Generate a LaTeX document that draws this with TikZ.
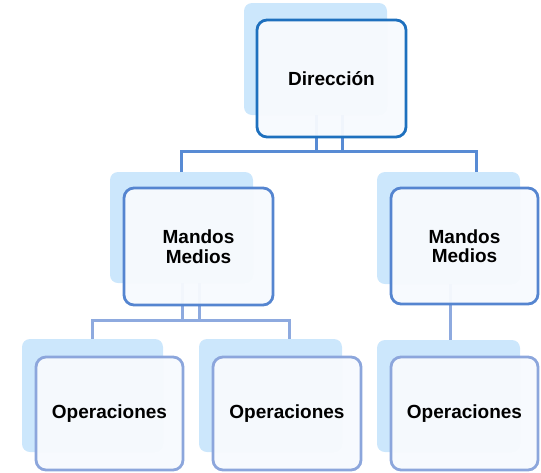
\documentclass[tikz,border=0pt]{standalone}
\usepackage{fontspec}
\setmainfont{Liberation Sans}
\definecolor{backfill}{RGB}{204,231,252}
\definecolor{frontfill}{RGB}{247,250,254}
\definecolor{dirline}{RGB}{30,112,190}
\definecolor{mmline}{RGB}{85,133,208}
\definecolor{opline}{RGB}{140,166,220}
\definecolor{connA}{RGB}{88,139,212}
\definecolor{connB}{RGB}{142,170,223}
\begin{document}
\begin{tikzpicture}[x=1pt,y=-1pt,
  backbox/.style={draw=none,fill=backfill,rounded corners=8pt,inner sep=0pt,outer sep=0pt,minimum width=143pt,minimum height=112pt},
  frontbox/.style={fill=frontfill,fill opacity=0.96,text opacity=1,rounded corners=10pt,line width=2.8pt,inner sep=0pt,outer sep=0pt,minimum width=148pt,minimum height=116pt,align=center,font=\fontsize{19}{19.5}\selectfont\bfseries},
  connA/.style={draw=connA,line width=3pt},
  connB/.style={draw=connB,line width=3pt}]
\useasboundingbox (0,0) rectangle (541,472);
% back boxes
\node[backbox] (dirB) at (315.5,59) {};
\node[backbox,minimum height=111pt] (mmlB) at (181.5,227.5) {};
\node[backbox,minimum height=112pt] (mmrB) at (448.5,228) {};
\node[backbox,minimum width=141pt,minimum height=113pt] (op1B) at (92.5,395.5) {};
\node[backbox,minimum height=113pt] (op2B) at (270.5,395.5) {};
\node[backbox,minimum height=112pt] (op3B) at (448.5,396) {};
% connectors
\coordinate (j1) at (316,151);
\coordinate (j2) at (342,151);
\coordinate (busL) at (181,151);
\coordinate (busR) at (476,151);
\draw[connA] (j1 |- dirB.south) -- (j1);
\draw[connA] (j2 |- dirB.south) -- (j2);
\draw[connA] (busL |- mmlB.north) -- (busL) -- (busR) -- (busR |- mmrB.north);
\coordinate (b2L) at (92,320);
\coordinate (b2R) at (289,320);
\coordinate (k1) at (182,320);
\coordinate (k2) at (199,320);
\coordinate (k3) at (450,320);
\draw[connB] (b2L |- op1B.north) -- (b2L) -- (b2R) -- (b2R |- op2B.north);
\draw[connB] (k1 |- mmlB.south) -- (k1);
\draw[connB] (k2 |- mmlB.south) -- (k2);
\draw[connB] (k3 |- mmrB.south) -- (k3 |- op3B.north);
% front boxes
\node[frontbox,draw=dirline,minimum width=149pt,minimum height=117pt] (dir) at (331.5,78.5) {Dirección};
\node[frontbox,draw=mmline,minimum width=149pt,minimum height=117pt] (mml) at (198.5,246.5) {Mandos\\Medios};
\node[frontbox,draw=mmline,minimum width=147pt] (mmr) at (464.5,246) {Mandos\\Medios};
\node[frontbox,draw=opline,minimum width=147pt,minimum height=113pt] (op1) at (109.5,413.5) {Operaciones};
\node[frontbox,draw=opline,minimum width=148pt,minimum height=113pt] (op2) at (287,413.5) {Operaciones};
\node[frontbox,draw=opline,minimum width=147pt,minimum height=113pt] (op3) at (464.5,413.5) {Operaciones};
\end{tikzpicture}
\end{document}
